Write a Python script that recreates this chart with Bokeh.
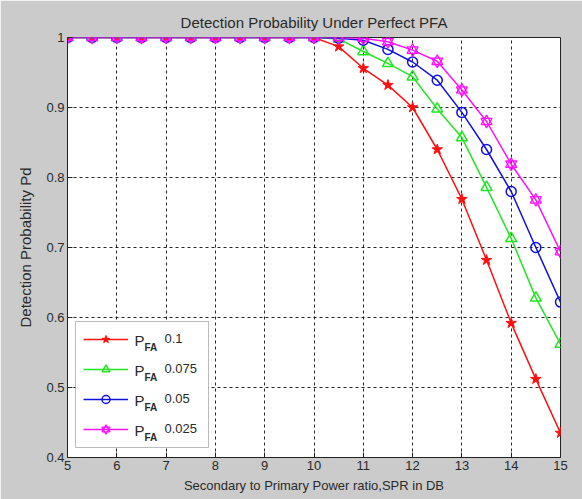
from bokeh.plotting import figure
from bokeh.models import Legend, LegendItem, Label, FixedTicker, ColumnDataSource, BoxAnnotation
from bokeh.embed import file_html
from bokeh.resources import INLINE

spr_db = [5, 5.5, 6, 6.5, 7, 7.5, 8, 8.5, 9, 9.5, 10, 10.5, 11, 11.5, 12, 12.5, 13, 13.5, 14, 14.5, 15]
pd_pfa_0100 = [1, 1, 1, 1, 1, 1, 1, 1, 1, 1, 1, 0.987, 0.956, 0.932, 0.900, 0.840, 0.769, 0.682, 0.592, 0.512, 0.435]
pd_pfa_0075 = [1, 1, 1, 1, 1, 1, 1, 1, 1, 1, 1, 0.998, 0.980, 0.963, 0.944, 0.898, 0.857, 0.786, 0.713, 0.628, 0.562]
pd_pfa_0050 = [1, 1, 1, 1, 1, 1, 1, 1, 1, 1, 1, 0.999, 0.996, 0.983, 0.965, 0.939, 0.893, 0.840, 0.780, 0.700, 0.622]
pd_pfa_0025 = [1, 1, 1, 1, 1, 1, 1, 1, 1, 1, 1, 1.000, 0.999, 0.994, 0.982, 0.966, 0.925, 0.880, 0.819, 0.768, 0.694]
pfa_values = ["0.1", "0.075", "0.05", "0.025"]
x_ticks = [5, 6, 7, 8, 9, 10, 11, 12, 13, 14, 15]
y_ticks = [0.4, 0.5, 0.6, 0.7, 0.8, 0.9, 1.0]

FONT = "Liberation Sans"
TXT = "#2a2a2a"
BG = "#cbcbcb"

p = figure(width=582, height=499, output_backend="svg", toolbar_location=None,
           x_range=(5, 15), y_range=(0.4, 1.0),
           title="Detection Probability Under Perfect PFA",
           min_border_left=67, min_border_right=22, min_border_top=37, min_border_bottom=42)
p.background_fill_color = "white"
p.border_fill_color = BG
p.outline_line_color = "#222222"
p.outline_line_width = 1

p.title.align = "center"
p.title.text_font = FONT
p.title.text_font_size = "15px"
p.title.text_font_style = "normal"
p.title.text_color = TXT
p.title.standoff = 14

for ax in (p.xaxis[0], p.yaxis[0]):
    ax.axis_label_text_font = FONT
    ax.axis_label_text_font_style = "normal"
    ax.axis_label_text_color = TXT
    ax.major_label_text_font = FONT
    ax.major_label_text_font_size = "13px"
    ax.major_label_text_color = TXT
    ax.major_tick_in = 5
    ax.major_tick_out = 0
    ax.minor_tick_in = 0
    ax.minor_tick_out = 0
    ax.axis_line_color = "#222222"
    ax.major_tick_line_color = "#222222"
    ax.major_label_standoff = 3

p.xaxis.axis_label_text_font_size = "13px"
p.yaxis.axis_label_text_font_size = "15px"
p.xaxis.ticker = FixedTicker(ticks=x_ticks)
p.yaxis.ticker = FixedTicker(ticks=y_ticks)
p.yaxis.major_label_overrides = {1: "1"}
p.xaxis.axis_label = "Secondary to Primary Power ratio,SPR in DB"
p.yaxis.axis_label = "Detection Probability Pd"
p.xaxis.axis_label_standoff = 5
p.yaxis.axis_label_standoff = 9

for g in (p.xgrid[0], p.ygrid[0]):
    g.grid_line_color = "black"
    g.grid_line_dash = "3 3"
    g.grid_line_width = 1
    g.grid_line_alpha = 0.85

src = ColumnDataSource(dict(x=spr_db, r=pd_pfa_0100, g=pd_pfa_0075, b=pd_pfa_0050, m=pd_pfa_0025))

red = "#ff1010"
green = "#22e622"
blue = "#1010e0"
mag = "#ff10ff"

items = []
lr = p.line("x", "r", source=src, color=red, line_width=1.5)
sr = p.scatter("x", "r", source=src, marker="star", size=11, fill_color=red, line_color=red)
items.append([lr, sr])
lg = p.line("x", "g", source=src, color=green, line_width=1.5)
sg = p.scatter("x", "g", source=src, marker="triangle", size=11, fill_color=None, line_color=green, line_width=1.5)
items.append([lg, sg])
lb = p.line("x", "b", source=src, color=blue, line_width=1.5)
sb = p.scatter("x", "b", source=src, marker="circle", size=10, fill_color=None, line_color=blue, line_width=1.5)
items.append([lb, sb])
lm = p.line("x", "m", source=src, color=mag, line_width=1.5)
sm1 = p.scatter("x", "m", source=src, marker="triangle", size=11, fill_color=None, line_color=mag, line_width=1.3)
sm2 = p.scatter("x", "m", source=src, marker="inverted_triangle", size=11, fill_color=None, line_color=mag, line_width=1.3)
items.append([lm, sm1, sm2])

# white legend panel drawn underneath the (transparent) legend
p.add_layout(BoxAnnotation(left=8, right=141, bottom=10, top=136,
                           left_units="screen", right_units="screen",
                           bottom_units="screen", top_units="screen",
                           fill_color="white", fill_alpha=1,
                           line_color="#222222", line_width=1, level="annotation"))

row_y = [117, 87, 57, 27]
for yy, val in zip(row_y, pfa_values):
    p.add_layout(Label(x=67, y=yy, x_units="screen", y_units="screen", text="P",
                       text_font=FONT, text_font_size="15px", text_color=TXT,
                       text_baseline="middle", text_align="left"))
    p.add_layout(Label(x=77, y=yy - 7, x_units="screen", y_units="screen", text="FA",
                       text_font=FONT, text_font_size="10px", text_font_style="bold", text_color=TXT,
                       text_baseline="middle", text_align="left"))
    p.add_layout(Label(x=97, y=yy + 2, x_units="screen", y_units="screen", text=val,
                       text_font=FONT, text_font_size="13px", text_color=TXT,
                       text_baseline="middle", text_align="left"))

legend = Legend(items=[LegendItem(label=" ", renderers=r) for r in items],
                location=(8, 10), glyph_width=45, glyph_height=20, label_width=65,
                label_height=20, label_standoff=5, spacing=10, padding=8, margin=0,
                border_line_alpha=0, background_fill_alpha=0,
                label_text_font_size="1px")
p.add_layout(legend, "center")

open("out.html", "w").write(file_html(p, INLINE))
